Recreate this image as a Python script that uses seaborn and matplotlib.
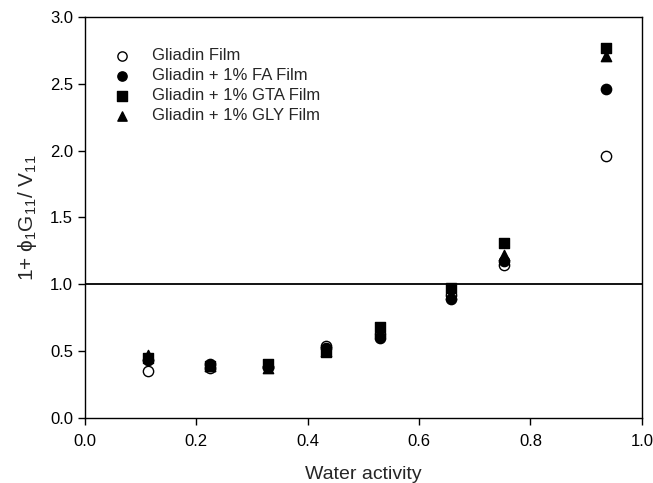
import numpy as np
import pandas as pd
import matplotlib
matplotlib.use("Agg")
import matplotlib.pyplot as plt
import seaborn as sns

# data
water_activity = [0.113, 0.225, 0.328, 0.432, 0.529, 0.658, 0.753, 0.936]
gliadin = [0.35, 0.37, 0.38, 0.54, 0.63, 0.92, 1.14, 1.96]
gliadin_fa = [0.43, 0.40, 0.38, 0.52, 0.60, 0.89, 1.17, 2.46]
gliadin_gta = [0.45, 0.39, 0.40, 0.49, 0.68, 0.97, 1.31, 2.77]
gliadin_gly = [0.47, 0.39, 0.37, 0.50, 0.65, 0.93, 1.22, 2.71]

series_names = ["Gliadin Film", "Gliadin + 1% FA Film",
                "Gliadin + 1% GTA Film", "Gliadin + 1% GLY Film"]
series_values = [gliadin, gliadin_fa, gliadin_gta, gliadin_gly]

rows = []
for name, vals in zip(series_names, series_values):
    for aw, v in zip(water_activity, vals):
        rows.append({"aw": aw, "value": v, "film": name})
df = pd.DataFrame(rows)

sns.set_style("ticks")
plt.rcParams["font.family"] = ["Liberation Sans", "DejaVu Sans"]
plt.rcParams["mathtext.fontset"] = "custom"
plt.rcParams["mathtext.rm"] = "Liberation Sans"
plt.rcParams["mathtext.it"] = "Liberation Sans"

fig = plt.figure(figsize=(6.53, 4.83), dpi=100)
ax = fig.add_axes([0.130, 0.135, 0.853, 0.830])

styles = {
    "Gliadin Film": dict(marker="o", facecolor="white"),
    "Gliadin + 1% FA Film": dict(marker="o", facecolor="black"),
    "Gliadin + 1% GTA Film": dict(marker="s", facecolor="black"),
    "Gliadin + 1% GLY Film": dict(marker="^", facecolor="black"),
}

for name in series_names:
    sub = df[df["film"] == name]
    st = styles[name]
    sns.scatterplot(data=sub, x="aw", y="value", ax=ax, marker=st["marker"],
                    color=st["facecolor"], edgecolor="black", linewidth=1.0,
                    s=55, label=name, zorder=3)

ax.axhline(1.0, color="black", linewidth=1.3, zorder=2)

ax.set_xlim(0, 1.0)
ax.set_ylim(0, 3.0)
ax.set_xticks(np.arange(0, 1.01, 0.2))
ax.set_yticks(np.arange(0, 3.01, 0.5))
ax.xaxis.set_major_formatter(matplotlib.ticker.FormatStrFormatter("%.1f"))
ax.yaxis.set_major_formatter(matplotlib.ticker.FormatStrFormatter("%.1f"))
ax.tick_params(direction="out", length=5, width=1, labelsize=12, colors="black")
ax.tick_params(axis="x", pad=7)
for sp in ax.spines.values():
    sp.set_linewidth(1.0)
    sp.set_color("black")

ax.set_xlabel("Water activity", fontsize=14, labelpad=12)
ax.set_ylabel(r"1+ $\phi_1$G$_{11}$/ V$_{11}$", fontsize=15, labelpad=8)

ax.legend(loc="upper left", bbox_to_anchor=(0.01, 0.96), frameon=False,
          fontsize=12, handletextpad=0.8, labelspacing=0.3, borderaxespad=0.5,
          markerscale=0.9)

fig.savefig("out.png", dpi=100)
